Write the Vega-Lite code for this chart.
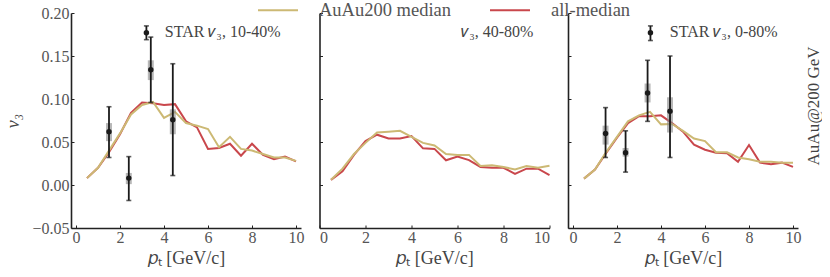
{
  "$schema": "https://vega.github.io/schema/vega-lite/v6.json",
  "padding": {"left": 4, "top": -11, "right": 0, "bottom": 0},
  "background": "white",
  "bounds": "flush",
  "spacing": 18.5,
  "config": {
    "view": {"stroke": null},
    "font": "Liberation Serif",
    "axis": {
      "grid": false,
      "domainColor": "#222",
      "domainWidth": 1.6,
      "tickColor": "#222",
      "tickSize": -3,
      "tickWidth": 1,
      "labelFont": "Liberation Serif",
      "labelFontSize": 16,
      "labelColor": "#555",
      "titleFont": "Liberation Serif",
      "titleFontSize": 18,
      "titleFontWeight": "normal",
      "titleColor": "#444"
    },
    "legend": {
      "orient": "none",
      "legendX": 186,
      "legendY": -24,
      "direction": "horizontal",
      "symbolType": "stroke",
      "symbolSize": 1600,
      "symbolStrokeWidth": 2,
      "labelFont": "Liberation Serif",
      "labelFontSize": 18.5,
      "labelColor": "#555",
      "labelOffset": 20,
      "columnPadding": 34
    }
  },
  "datasets": {
    "lines": [
      {"panel": 1, "series": "all-median", "pt": 0.5, "v3": 0.008},
      {"panel": 1, "series": "all-median", "pt": 1.0, "v3": 0.020},
      {"panel": 1, "series": "all-median", "pt": 1.5, "v3": 0.038},
      {"panel": 1, "series": "all-median", "pt": 2.0, "v3": 0.059},
      {"panel": 1, "series": "all-median", "pt": 2.5, "v3": 0.084},
      {"panel": 1, "series": "all-median", "pt": 3.0, "v3": 0.096},
      {"panel": 1, "series": "all-median", "pt": 3.5, "v3": 0.095},
      {"panel": 1, "series": "all-median", "pt": 4.0, "v3": 0.093},
      {"panel": 1, "series": "all-median", "pt": 4.5, "v3": 0.094},
      {"panel": 1, "series": "all-median", "pt": 5.0, "v3": 0.074},
      {"panel": 1, "series": "all-median", "pt": 5.5, "v3": 0.067},
      {"panel": 1, "series": "all-median", "pt": 6.0, "v3": 0.042},
      {"panel": 1, "series": "all-median", "pt": 6.5, "v3": 0.043},
      {"panel": 1, "series": "all-median", "pt": 7.0, "v3": 0.048},
      {"panel": 1, "series": "all-median", "pt": 7.5, "v3": 0.034},
      {"panel": 1, "series": "all-median", "pt": 8.0, "v3": 0.048},
      {"panel": 1, "series": "all-median", "pt": 8.5, "v3": 0.035},
      {"panel": 1, "series": "all-median", "pt": 9.0, "v3": 0.030},
      {"panel": 1, "series": "all-median", "pt": 9.5, "v3": 0.033},
      {"panel": 1, "series": "all-median", "pt": 10.0, "v3": 0.0275},
      {"panel": 1, "series": "AuAu200 median", "pt": 0.5, "v3": 0.008},
      {"panel": 1, "series": "AuAu200 median", "pt": 1.0, "v3": 0.020},
      {"panel": 1, "series": "AuAu200 median", "pt": 1.5, "v3": 0.040},
      {"panel": 1, "series": "AuAu200 median", "pt": 2.0, "v3": 0.060},
      {"panel": 1, "series": "AuAu200 median", "pt": 2.5, "v3": 0.082},
      {"panel": 1, "series": "AuAu200 median", "pt": 3.0, "v3": 0.093},
      {"panel": 1, "series": "AuAu200 median", "pt": 3.5, "v3": 0.0965},
      {"panel": 1, "series": "AuAu200 median", "pt": 4.0, "v3": 0.078},
      {"panel": 1, "series": "AuAu200 median", "pt": 4.5, "v3": 0.085},
      {"panel": 1, "series": "AuAu200 median", "pt": 5.0, "v3": 0.072},
      {"panel": 1, "series": "AuAu200 median", "pt": 5.5, "v3": 0.069},
      {"panel": 1, "series": "AuAu200 median", "pt": 6.0, "v3": 0.065},
      {"panel": 1, "series": "AuAu200 median", "pt": 6.5, "v3": 0.044},
      {"panel": 1, "series": "AuAu200 median", "pt": 7.0, "v3": 0.056},
      {"panel": 1, "series": "AuAu200 median", "pt": 7.5, "v3": 0.042},
      {"panel": 1, "series": "AuAu200 median", "pt": 8.0, "v3": 0.040},
      {"panel": 1, "series": "AuAu200 median", "pt": 8.5, "v3": 0.036},
      {"panel": 1, "series": "AuAu200 median", "pt": 9.0, "v3": 0.032},
      {"panel": 1, "series": "AuAu200 median", "pt": 9.5, "v3": 0.032},
      {"panel": 1, "series": "AuAu200 median", "pt": 10.0, "v3": 0.028},
      {"panel": 2, "series": "all-median", "pt": 0.5, "v3": 0.006},
      {"panel": 2, "series": "all-median", "pt": 1.0, "v3": 0.016},
      {"panel": 2, "series": "all-median", "pt": 1.5, "v3": 0.035},
      {"panel": 2, "series": "all-median", "pt": 2.0, "v3": 0.051},
      {"panel": 2, "series": "all-median", "pt": 2.5, "v3": 0.0585},
      {"panel": 2, "series": "all-median", "pt": 3.0, "v3": 0.054},
      {"panel": 2, "series": "all-median", "pt": 3.5, "v3": 0.054},
      {"panel": 2, "series": "all-median", "pt": 4.0, "v3": 0.057},
      {"panel": 2, "series": "all-median", "pt": 4.5, "v3": 0.0426},
      {"panel": 2, "series": "all-median", "pt": 5.0, "v3": 0.042},
      {"panel": 2, "series": "all-median", "pt": 5.5, "v3": 0.0287},
      {"panel": 2, "series": "all-median", "pt": 6.0, "v3": 0.033},
      {"panel": 2, "series": "all-median", "pt": 6.5, "v3": 0.029},
      {"panel": 2, "series": "all-median", "pt": 7.0, "v3": 0.021},
      {"panel": 2, "series": "all-median", "pt": 7.5, "v3": 0.020},
      {"panel": 2, "series": "all-median", "pt": 8.0, "v3": 0.020},
      {"panel": 2, "series": "all-median", "pt": 8.5, "v3": 0.013},
      {"panel": 2, "series": "all-median", "pt": 9.0, "v3": 0.019},
      {"panel": 2, "series": "all-median", "pt": 9.5, "v3": 0.019},
      {"panel": 2, "series": "all-median", "pt": 10.0, "v3": 0.0116},
      {"panel": 2, "series": "AuAu200 median", "pt": 0.5, "v3": 0.006},
      {"panel": 2, "series": "AuAu200 median", "pt": 1.0, "v3": 0.019},
      {"panel": 2, "series": "AuAu200 median", "pt": 1.5, "v3": 0.036},
      {"panel": 2, "series": "AuAu200 median", "pt": 2.0, "v3": 0.049},
      {"panel": 2, "series": "AuAu200 median", "pt": 2.5, "v3": 0.061},
      {"panel": 2, "series": "AuAu200 median", "pt": 3.0, "v3": 0.062},
      {"panel": 2, "series": "AuAu200 median", "pt": 3.5, "v3": 0.063},
      {"panel": 2, "series": "AuAu200 median", "pt": 4.0, "v3": 0.056},
      {"panel": 2, "series": "AuAu200 median", "pt": 4.5, "v3": 0.049},
      {"panel": 2, "series": "AuAu200 median", "pt": 5.0, "v3": 0.046},
      {"panel": 2, "series": "AuAu200 median", "pt": 5.5, "v3": 0.036},
      {"panel": 2, "series": "AuAu200 median", "pt": 6.0, "v3": 0.035},
      {"panel": 2, "series": "AuAu200 median", "pt": 6.5, "v3": 0.035},
      {"panel": 2, "series": "AuAu200 median", "pt": 7.0, "v3": 0.022},
      {"panel": 2, "series": "AuAu200 median", "pt": 7.5, "v3": 0.023},
      {"panel": 2, "series": "AuAu200 median", "pt": 8.0, "v3": 0.021},
      {"panel": 2, "series": "AuAu200 median", "pt": 8.5, "v3": 0.018},
      {"panel": 2, "series": "AuAu200 median", "pt": 9.0, "v3": 0.022},
      {"panel": 2, "series": "AuAu200 median", "pt": 9.5, "v3": 0.020},
      {"panel": 2, "series": "AuAu200 median", "pt": 10.0, "v3": 0.0225},
      {"panel": 3, "series": "all-median", "pt": 0.5, "v3": 0.0074},
      {"panel": 3, "series": "all-median", "pt": 1.0, "v3": 0.018},
      {"panel": 3, "series": "all-median", "pt": 1.5, "v3": 0.037},
      {"panel": 3, "series": "all-median", "pt": 2.0, "v3": 0.055},
      {"panel": 3, "series": "all-median", "pt": 2.5, "v3": 0.072},
      {"panel": 3, "series": "all-median", "pt": 3.0, "v3": 0.080},
      {"panel": 3, "series": "all-median", "pt": 3.5, "v3": 0.080},
      {"panel": 3, "series": "all-median", "pt": 4.0, "v3": 0.081},
      {"panel": 3, "series": "all-median", "pt": 4.5, "v3": 0.072},
      {"panel": 3, "series": "all-median", "pt": 5.0, "v3": 0.062},
      {"panel": 3, "series": "all-median", "pt": 5.5, "v3": 0.047},
      {"panel": 3, "series": "all-median", "pt": 6.0, "v3": 0.041},
      {"panel": 3, "series": "all-median", "pt": 6.5, "v3": 0.0376},
      {"panel": 3, "series": "all-median", "pt": 7.0, "v3": 0.037},
      {"panel": 3, "series": "all-median", "pt": 7.5, "v3": 0.027},
      {"panel": 3, "series": "all-median", "pt": 8.0, "v3": 0.0465},
      {"panel": 3, "series": "all-median", "pt": 8.5, "v3": 0.026},
      {"panel": 3, "series": "all-median", "pt": 9.0, "v3": 0.024},
      {"panel": 3, "series": "all-median", "pt": 9.5, "v3": 0.026},
      {"panel": 3, "series": "all-median", "pt": 10.0, "v3": 0.021},
      {"panel": 3, "series": "AuAu200 median", "pt": 0.5, "v3": 0.0074},
      {"panel": 3, "series": "AuAu200 median", "pt": 1.0, "v3": 0.018},
      {"panel": 3, "series": "AuAu200 median", "pt": 1.5, "v3": 0.038},
      {"panel": 3, "series": "AuAu200 median", "pt": 2.0, "v3": 0.056},
      {"panel": 3, "series": "AuAu200 median", "pt": 2.5, "v3": 0.074},
      {"panel": 3, "series": "AuAu200 median", "pt": 3.0, "v3": 0.081},
      {"panel": 3, "series": "AuAu200 median", "pt": 3.5, "v3": 0.085},
      {"panel": 3, "series": "AuAu200 median", "pt": 4.0, "v3": 0.0705},
      {"panel": 3, "series": "AuAu200 median", "pt": 4.5, "v3": 0.071},
      {"panel": 3, "series": "AuAu200 median", "pt": 5.0, "v3": 0.063},
      {"panel": 3, "series": "AuAu200 median", "pt": 5.5, "v3": 0.054},
      {"panel": 3, "series": "AuAu200 median", "pt": 6.0, "v3": 0.051},
      {"panel": 3, "series": "AuAu200 median", "pt": 6.5, "v3": 0.038},
      {"panel": 3, "series": "AuAu200 median", "pt": 7.0, "v3": 0.038},
      {"panel": 3, "series": "AuAu200 median", "pt": 7.5, "v3": 0.032},
      {"panel": 3, "series": "AuAu200 median", "pt": 8.0, "v3": 0.030},
      {"panel": 3, "series": "AuAu200 median", "pt": 8.5, "v3": 0.027},
      {"panel": 3, "series": "AuAu200 median", "pt": 9.0, "v3": 0.027},
      {"panel": 3, "series": "AuAu200 median", "pt": 9.5, "v3": 0.026},
      {"panel": 3, "series": "AuAu200 median", "pt": 10.0, "v3": 0.026}
    ],
    "star": [
      {"panel": 1, "pt": 1.5, "v3": 0.062, "lo": 0.032, "hi": 0.091, "slo": 0.051, "shi": 0.072},
      {"panel": 1, "pt": 2.4, "v3": 0.008, "lo": -0.018, "hi": 0.033, "slo": 0.001, "shi": 0.014},
      {"panel": 1, "pt": 3.2, "v3": 0.177, "lo": 0.169, "hi": 0.185, "slo": null, "shi": null},
      {"panel": 1, "pt": 3.4, "v3": 0.134, "lo": 0.096, "hi": 0.172, "slo": 0.122, "shi": 0.145},
      {"panel": 1, "pt": 4.4, "v3": 0.076, "lo": 0.011, "hi": 0.141, "slo": 0.059, "shi": 0.088},
      {"panel": 3, "pt": 1.48, "v3": 0.060, "lo": 0.032, "hi": 0.090, "slo": 0.047, "shi": 0.069},
      {"panel": 3, "pt": 2.39, "v3": 0.0376, "lo": 0.015, "hi": 0.063, "slo": 0.033, "shi": 0.043},
      {"panel": 3, "pt": 3.39, "v3": 0.107, "lo": 0.074, "hi": 0.145, "slo": 0.096, "shi": 0.118},
      {"panel": 3, "pt": 3.52, "v3": 0.177, "lo": 0.168, "hi": 0.185, "slo": null, "shi": null},
      {"panel": 3, "pt": 4.41, "v3": 0.0857, "lo": 0.032, "hi": 0.150, "slo": 0.061, "shi": 0.102}
    ]
  },
  "resolve": {"scale": {"color": "shared"}, "legend": {"color": "shared"}},
  "hconcat": [
    {
      "width": 230, "height": 215,
      "layer": [
        {
          "data": {"name": "lines"},
          "transform": [{"filter": "datum.panel == 1"}],
          "mark": {"type": "line", "strokeWidth": 2},
          "encoding": {
            "x": {"field": "pt", "type": "quantitative", "scale": {"domain": [0, 10], "nice": false},
                  "axis": {"values": [0, 2, 4, 6, 8, 10], "format": "d", "title": "𝑝ₜ [GeV/c]", "labelPadding": 4, "titlePadding": 4}},
            "y": {"field": "v3", "type": "quantitative", "scale": {"domain": [-0.05, 0.2], "nice": false, "zero": false},
                  "axis": {"values": [-0.05, 0, 0.05, 0.1, 0.15, 0.2], "format": ".2f", "title": "v₃", "titleFontStyle": "italic", "labelPadding": 5, "titlePadding": 9}},
            "color": {"field": "series", "type": "nominal",
                      "scale": {"domain": ["AuAu200 median", "all-median"], "range": ["#ccb974", "#c9474c"]},
                      "legend": {"title": null}}
          }
        },
        {
          "data": {"name": "star"},
          "transform": [{"filter": "datum.panel == 1"}],
          "mark": {"type": "bar", "color": "#888", "opacity": 0.6, "size": 6},
          "encoding": {"x": {"field": "pt", "type": "quantitative"}, "y": {"field": "slo", "type": "quantitative"}, "y2": {"field": "shi"}}
        },
        {
          "data": {"name": "star"},
          "transform": [{"filter": "datum.panel == 1"}],
          "mark": {"type": "rule", "color": "#1a1a1a", "strokeWidth": 1.8},
          "encoding": {"x": {"field": "pt", "type": "quantitative"}, "y": {"field": "lo", "type": "quantitative"}, "y2": {"field": "hi"}}
        },
        {
          "data": {"name": "star"},
          "transform": [{"filter": "datum.panel == 1"}],
          "mark": {"type": "tick", "orient": "horizontal", "color": "#1a1a1a", "size": 5, "thickness": 1.6},
          "encoding": {"x": {"field": "pt", "type": "quantitative"}, "y": {"field": "lo", "type": "quantitative"}}
        },
        {
          "data": {"name": "star"},
          "transform": [{"filter": "datum.panel == 1"}],
          "mark": {"type": "tick", "orient": "horizontal", "color": "#1a1a1a", "size": 5, "thickness": 1.6},
          "encoding": {"x": {"field": "pt", "type": "quantitative"}, "y": {"field": "hi", "type": "quantitative"}}
        },
        {
          "data": {"name": "star"},
          "transform": [{"filter": "datum.panel == 1"}],
          "mark": {"type": "circle", "color": "#1a1a1a", "opacity": 1, "size": 30},
          "encoding": {"x": {"field": "pt", "type": "quantitative"}, "y": {"field": "v3", "type": "quantitative"}}
        },
        {
          "data": {"values": [{}]},
          "mark": {"type": "text", "align": "right", "baseline": "middle", "fontSize": 16, "color": "#444", "font": "Liberation Serif"},
          "encoding": {"x": {"datum": 9.3}, "y": {"datum": 0.178}, "text": {"value": "STAR 𝑣₃, 10-40%"}}
        }
      ]
    },
    {
      "width": 230, "height": 215,
      "layer": [
        {
          "data": {"name": "lines"},
          "transform": [{"filter": "datum.panel == 2"}],
          "mark": {"type": "line", "strokeWidth": 2},
          "encoding": {
            "x": {"field": "pt", "type": "quantitative", "scale": {"domain": [0, 10], "nice": false},
                  "axis": {"values": [0, 2, 4, 6, 8, 10], "format": "d", "title": "𝑝ₜ [GeV/c]", "labelPadding": 4, "titlePadding": 4}},
            "y": {"field": "v3", "type": "quantitative", "scale": {"domain": [-0.05, 0.2], "nice": false, "zero": false},
                  "axis": {"values": [-0.05, 0, 0.05, 0.1, 0.15, 0.2], "labels": false, "title": null}},
            "color": {"field": "series", "type": "nominal",
                      "scale": {"domain": ["AuAu200 median", "all-median"], "range": ["#ccb974", "#c9474c"]},
                      "legend": {"title": null}}
          }
        },
        {
          "data": {"values": [{}]},
          "mark": {"type": "text", "align": "right", "baseline": "middle", "fontSize": 16, "color": "#444", "font": "Liberation Serif"},
          "encoding": {"x": {"datum": 9.3}, "y": {"datum": 0.178}, "text": {"value": "𝑣₃, 40-80%"}}
        }
      ]
    },
    {
      "width": 230, "height": 215,
      "layer": [
        {
          "data": {"name": "lines"},
          "transform": [{"filter": "datum.panel == 3"}],
          "mark": {"type": "line", "strokeWidth": 2},
          "encoding": {
            "x": {"field": "pt", "type": "quantitative", "scale": {"domain": [0, 10], "nice": false},
                  "axis": {"values": [0, 2, 4, 6, 8, 10], "format": "d", "title": "𝑝ₜ [GeV/c]", "labelPadding": 4, "titlePadding": 4}},
            "y": {"field": "v3", "type": "quantitative", "scale": {"domain": [-0.05, 0.2], "nice": false, "zero": false},
                  "axis": {"values": [-0.05, 0, 0.05, 0.1, 0.15, 0.2], "labels": false, "title": null}},
            "color": {"field": "series", "type": "nominal",
                      "scale": {"domain": ["AuAu200 median", "all-median"], "range": ["#ccb974", "#c9474c"]},
                      "legend": {"title": null}}
          }
        },
        {
          "data": {"name": "star"},
          "transform": [{"filter": "datum.panel == 3"}],
          "mark": {"type": "bar", "color": "#888", "opacity": 0.6, "size": 6},
          "encoding": {"x": {"field": "pt", "type": "quantitative"}, "y": {"field": "slo", "type": "quantitative"}, "y2": {"field": "shi"}}
        },
        {
          "data": {"name": "star"},
          "transform": [{"filter": "datum.panel == 3"}],
          "mark": {"type": "rule", "color": "#1a1a1a", "strokeWidth": 1.8},
          "encoding": {"x": {"field": "pt", "type": "quantitative"}, "y": {"field": "lo", "type": "quantitative"}, "y2": {"field": "hi"}}
        },
        {
          "data": {"name": "star"},
          "transform": [{"filter": "datum.panel == 3"}],
          "mark": {"type": "tick", "orient": "horizontal", "color": "#1a1a1a", "size": 5, "thickness": 1.6},
          "encoding": {"x": {"field": "pt", "type": "quantitative"}, "y": {"field": "lo", "type": "quantitative"}}
        },
        {
          "data": {"name": "star"},
          "transform": [{"filter": "datum.panel == 3"}],
          "mark": {"type": "tick", "orient": "horizontal", "color": "#1a1a1a", "size": 5, "thickness": 1.6},
          "encoding": {"x": {"field": "pt", "type": "quantitative"}, "y": {"field": "hi", "type": "quantitative"}}
        },
        {
          "data": {"name": "star"},
          "transform": [{"filter": "datum.panel == 3"}],
          "mark": {"type": "circle", "color": "#1a1a1a", "opacity": 1, "size": 30},
          "encoding": {"x": {"field": "pt", "type": "quantitative"}, "y": {"field": "v3", "type": "quantitative"}}
        },
        {
          "data": {"values": [{}]},
          "mark": {"type": "text", "align": "right", "baseline": "middle", "fontSize": 16, "color": "#444", "font": "Liberation Serif"},
          "encoding": {"x": {"datum": 9.3}, "y": {"datum": 0.178}, "text": {"value": "STAR 𝑣₃, 0-80%"}}
        },
        {
          "data": {"values": [{}]},
          "mark": {"type": "text", "align": "center", "baseline": "middle", "angle": 270, "fontSize": 17, "color": "#444", "font": "Liberation Serif"},
          "encoding": {"x": {"datum": 10.95}, "y": {"datum": 0.092}, "text": {"value": "AuAu@200 GeV"}}
        }
      ]
    }
  ]
}
